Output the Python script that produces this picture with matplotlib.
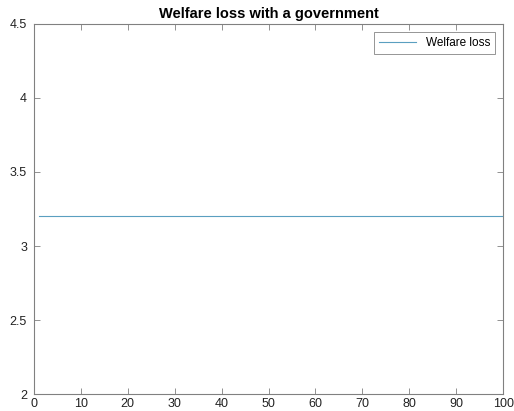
import matplotlib
matplotlib.use("Agg")
import matplotlib.pyplot as plt

plt.rcParams["font.family"] = ["Liberation Sans", "DejaVu Sans"]

# model periods and welfare loss (flat)
periods = list(range(1, 101))
welfare_loss = [3.2] * 100

fig = plt.figure(figsize=(5.14, 4.11), dpi=100)
ax = fig.add_axes([0.066, 0.041, 0.913, 0.901])

ax.plot(periods, welfare_loss, color="#5a9fc0", linewidth=0.8, label="Welfare loss")

ax.set_xlim(0, 100)
ax.set_ylim(2, 4.5)
ax.set_xticks(range(0, 101, 10))
ax.set_yticks([2, 2.5, 3, 3.5, 4, 4.5])
ax.set_yticklabels(["2", "2.5", "3", "3.5", "4", "4.5"])

for s in ax.spines.values():
    s.set_color("#808080")
    s.set_linewidth(0.8)
ax.tick_params(direction="in", top=True, right=True, length=4, width=0.6,
               color="#808080", labelsize=9, labelcolor="#222222")
ax.tick_params(axis="y", pad=5)
ax.tick_params(axis="x", pad=3)

ax.set_title("Welfare loss with a government", fontsize=10.5, fontweight="bold", pad=4)

leg = ax.legend(loc="upper right", fontsize=8.5, frameon=True, fancybox=False,
                handlelength=3.2, borderpad=0.4, borderaxespad=0.7)
leg.get_frame().set_edgecolor("#666666")
leg.get_frame().set_linewidth(0.6)

fig.savefig("out.png", dpi=100)
